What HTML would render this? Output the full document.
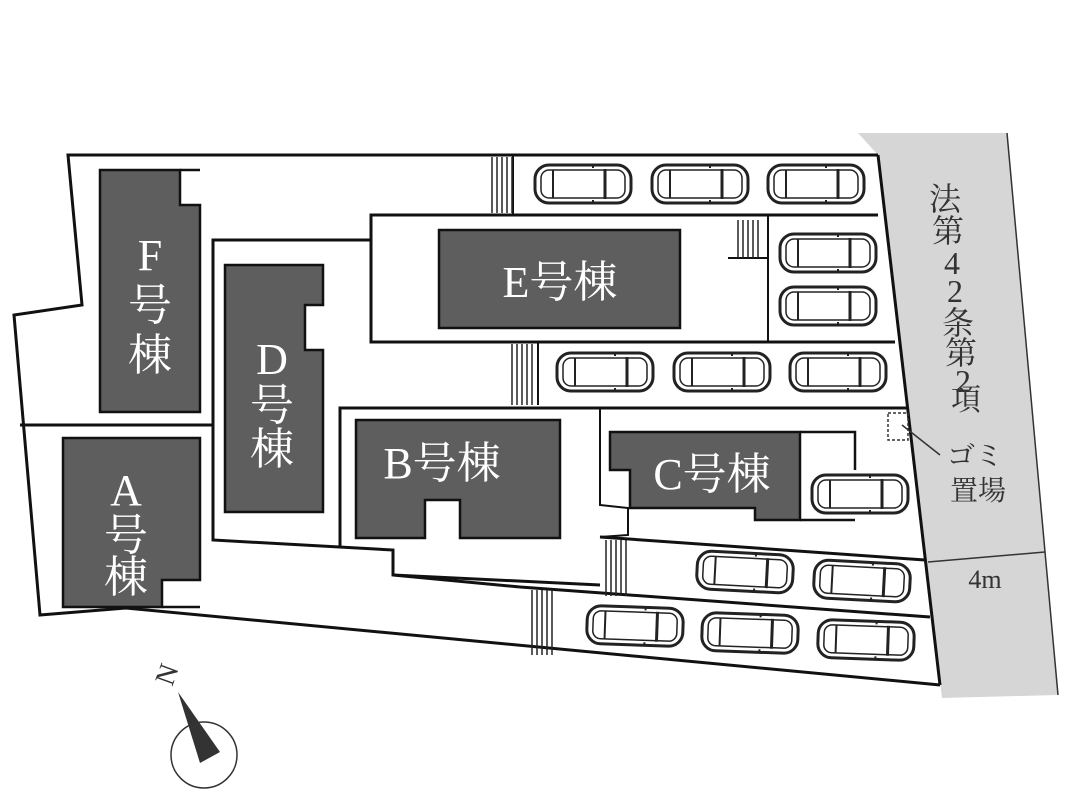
<!DOCTYPE html>
<html><head><meta charset="utf-8"><style>
html,body{margin:0;padding:0;background:#fff;width:1067px;height:800px;overflow:hidden}
svg text{font-family:"Liberation Serif","Noto Serif CJK SC",serif}
</style></head><body>
<svg width="1067" height="800" viewBox="0 0 1067 800" xmlns="http://www.w3.org/2000/svg">
<defs>
<g id="car" fill="none" stroke="#222">
<rect x="-48" y="-19" width="96" height="38" rx="14" stroke-width="3"/>
<rect x="-42" y="-14" width="84" height="28" rx="8" stroke-width="1.5"/>
<line x1="-30" y1="-14" x2="-30" y2="14" stroke-width="2"/>
<line x1="22" y1="-15" x2="22" y2="15" stroke-width="3"/>
<line x1="10" y1="-20" x2="10" y2="-16" stroke-width="2"/>
<line x1="10" y1="20" x2="10" y2="16" stroke-width="2"/>
</g>
<g id="stripe" stroke="#222" stroke-width="1.5">
<line x1="2" y1="0" x2="2" y2="1"/><line x1="7" y1="0" x2="7" y2="1"/><line x1="12" y1="0" x2="12" y2="1"/><line x1="17" y1="0" x2="17" y2="1"/><line x1="22" y1="0" x2="22" y2="1"/>
</g>
</defs>
<polygon points="858,133 1007,133 1058,695 942,698 878,155" fill="#d6d6d6"/>
<line x1="1007" y1="133" x2="1058" y2="695" stroke="#333" stroke-width="1.5"/>
<polyline points="878,155 68,155 82,305 14,315 40,615 126,608 940,685" fill="none" stroke="#111" stroke-width="3"/>
<line x1="878" y1="155" x2="940" y2="685" stroke="#111" stroke-width="3"/>
<line x1="20" y1="425" x2="213" y2="425" stroke="#111" stroke-width="3"/>
<polyline points="878,215 371,215 371,342 895,342" fill="none" stroke="#111" stroke-width="3"/>
<line x1="513" y1="215" x2="513" y2="155" stroke="#111" stroke-width="2"/>
<line x1="768" y1="215" x2="768" y2="342" stroke="#111" stroke-width="2"/>
<line x1="728" y1="258" x2="768" y2="258" stroke="#111" stroke-width="2"/>
<polyline points="371,240 213,240 213,540 393,550 393,575 600,585" fill="none" stroke="#111" stroke-width="3"/>
<line x1="538" y1="342" x2="538" y2="405" stroke="#111" stroke-width="2"/>
<polyline points="340,548 340,408 908,408" fill="none" stroke="#111" stroke-width="3"/>
<polyline points="600,408 600,505 628,508 628,535 600,537" fill="none" stroke="#111" stroke-width="2"/>
<line x1="600" y1="537" x2="925" y2="560" stroke="#111" stroke-width="3"/>
<line x1="520" y1="587" x2="930" y2="617" stroke="#111" stroke-width="3"/>
<line x1="393" y1="575" x2="520" y2="587" stroke="#111" stroke-width="3"/>
<use href="#stripe" transform="translate(490,157) scale(1,56)"/>
<use href="#stripe" transform="translate(510,344) scale(1,61)"/>
<use href="#stripe" transform="translate(736,220) scale(1,38)"/>
<use href="#stripe" transform="translate(604,540) scale(1,56)"/>
<use href="#stripe" transform="translate(530,590) scale(1,65)"/>
<g fill="#5e5e5e" stroke="#111" stroke-width="2.5">
<polygon points="100,170 180,170 180,205 200,205 200,412 100,412"/>
<polygon points="63,438 200,438 200,580 162,580 162,607 63,607"/>
<polygon points="225,265 323,265 323,305 305,305 305,350 323,350 323,512 225,512"/>
<rect x="439" y="230" width="241" height="98"/>
<polygon points="356,420 560,420 560,538 460,538 460,500 425,500 425,538 356,538"/>
<polygon points="610,432 800,432 800,520 755,520 755,508 630,508 630,470 610,470"/>
</g>
<polyline points="180,170 200,170" stroke="#111" stroke-width="2.5"/>
<polyline points="162,607 200,607" stroke="#111" stroke-width="2.5"/>
<polyline points="800,432 855,432 855,470" fill="none" stroke="#111" stroke-width="2.5"/>
<line x1="800" y1="520" x2="855" y2="520" stroke="#111" stroke-width="2.5"/>
<g fill="#fff" font-size="44" text-anchor="middle">
<text x="150" y="270">F</text><text x="150" y="320">号</text><text x="150" y="370">棟</text>
<text x="126" y="505">A</text><text x="126" y="550">号</text><text x="126" y="592">棟</text>
<text x="272" y="374">D</text><text x="272" y="420">号</text><text x="272" y="464">棟</text>
<text x="560" y="297">E号棟</text>
<text x="442" y="478">B号棟</text>
<text x="712" y="489">C号棟</text>
</g>
<use href="#car" transform="translate(583,184)"/>
<use href="#car" transform="translate(700,184)"/>
<use href="#car" transform="translate(816,184)"/>
<use href="#car" transform="translate(828,253)"/>
<use href="#car" transform="translate(828,306)"/>
<use href="#car" transform="translate(605,372)"/>
<use href="#car" transform="translate(722,372)"/>
<use href="#car" transform="translate(838,372)"/>
<use href="#car" transform="translate(860,494)"/>
<use href="#car" transform="translate(745,572) rotate(3)"/>
<use href="#car" transform="translate(862,581) rotate(3)"/>
<use href="#car" transform="translate(635,626) rotate(2)"/>
<use href="#car" transform="translate(750,633) rotate(2)"/>
<use href="#car" transform="translate(866,640) rotate(2)"/>
<g fill="#333" font-size="32" text-anchor="middle">
<text x="945" y="210">法</text><text x="948" y="242">第</text><text x="952" y="274">4</text><text x="955" y="302">2</text>
<text x="958" y="334">条</text><text x="961" y="364">第</text><text x="963" y="392">2</text><text x="966" y="410" font-size="30">項</text>
<text x="975" y="465" font-size="28">ゴミ</text><text x="978" y="500" font-size="28">置場</text>
<text x="985" y="588" font-size="26">4m</text>
</g>
<rect x="888" y="413" width="20" height="27" fill="none" stroke="#333" stroke-width="1.5" stroke-dasharray="3,2"/>
<line x1="902" y1="425" x2="940" y2="455" stroke="#333" stroke-width="1.5"/>
<line x1="928" y1="562" x2="1045" y2="552" stroke="#333" stroke-width="1.5"/>
<circle cx="204" cy="755" r="33" fill="none" stroke="#333" stroke-width="1.5"/>
<polygon points="178,692 220,752 200,763" fill="#333"/>
<text x="158" y="683" font-size="28" fill="#333" transform="rotate(-70 168 675)">N</text>
</svg>
</body></html>
